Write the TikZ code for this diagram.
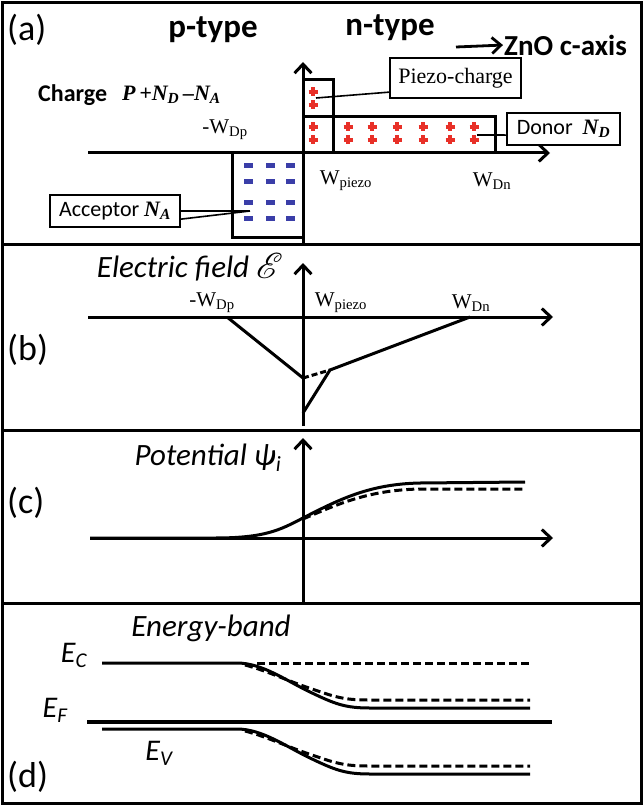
\documentclass[tikz,border=0pt]{standalone}
\usepackage{fontspec}
\setmainfont{Liberation Serif}
\setsansfont{Carlito}
\usepackage{mathrsfs}
\usepackage{graphicx}
\usetikzlibrary{arrows.meta,positioning,calc}
\definecolor{ink}{RGB}{0,0,0}
\definecolor{plusred}{RGB}{232,48,40}
\definecolor{minusblue}{RGB}{58,62,168}
\newcommand{\fsz}[1]{\fontsize{#1pt}{#1pt}\selectfont}
\tikzset{
  panelframe/.style={draw=ink,line width=3pt},
  axarr/.style={line width=3pt,-{Straight Barb[length=9pt,width=17pt]}},
  curve/.style={line width=3pt},
  dcurve/.style={line width=3pt,dash pattern=on 8pt off 4pt},
  chbox/.style={line width=3pt},
  plusmk/.style={plusred,line width=3.2pt},
  callout/.style={draw=ink,line width=2.2pt,fill=white,inner sep=0pt},
  leader/.style={line width=1.6pt},
  plab/.style={font=\sffamily\fsz{36},inner sep=0pt,anchor=west},
  hdr/.style={font=\sffamily\bfseries\fsz{33},inner sep=0pt},
  ttl/.style={font=\sffamily\itshape\fsz{31},inner sep=0pt},
  wlab/.style={font=\fsz{21},inner sep=0pt},
}

\begin{document}
\begin{tikzpicture}[x=1pt,y=-1pt]
  \useasboundingbox (0,0) rectangle (643,805);
  % frame and panel separators
  \draw[panelframe] (2,3) rectangle (641,803);
  \foreach \ys in {244,430,603}
    \draw[panelframe] (2,\ys) -- (641,\ys);

  % (a) charge distribution
  \node[plab] (labA) at (7,30) {(a)};
  \node[hdr] (ptype) at (213,30) {p-type};
  \node[hdr] (ntype) at (390,28) {n-type};
  \node[font=\sffamily\bfseries\fsz{29},inner sep=0pt,anchor=west] (caxis) at (504,45) {ZnO c-axis};
  \coordinate (cstart) at (456,47);
  \draw[line width=2.8pt,-{Straight Barb[length=9pt,width=16pt]},shorten >=1pt] (cstart) -- (caxis.west);
  \node[font=\sffamily\bfseries\fsz{24},inner sep=0pt,anchor=west] (charge) at (38,95) {Charge};
  \node[font=\bfseries\itshape\fsz{22},inner sep=0pt,anchor=west] (chgexpr) at (122,95)
    {P\,+N\textsubscript{D}\,--N\textsubscript{A}};

  \draw[chbox] (232,153) rectangle (303,237);
  \draw[chbox] (303,80) rectangle (333,153);
  \draw[chbox] (303,117) -- (495,117) -- (495,153);
  \foreach \x in {248,270,290}
    \foreach \y in {166,182,202,218}
      \fill[minusblue] (\x-4.5,\y-2.5) rectangle (\x+4.5,\y+2.5);
  \foreach \x in {313,348,372,397,423,450,474}
    \foreach \y in {127,140}
      \draw[plusmk] (\x-4.5,\y) -- (\x+4.5,\y) (\x,\y-4.5) -- (\x,\y+4.5);
  \foreach \y in {92,105}
    \draw[plusmk] (313-4.5,\y) -- (313+4.5,\y) (313,\y-4.5) -- (313,\y+4.5);

  \draw[axarr] (88,153) -- (550,153);
  \draw[axarr] (303,244) -- (303,62);
  \node[wlab] (wdpA) at (225,130) {-W\textsubscript{Dp}};
  \node[wlab] (wpzA) at (346,181) {W\textsubscript{piezo}};
  \node[wlab] (wdnA) at (492,181) {W\textsubscript{Dn}};

  \node[callout,font=\fsz{22},minimum width=131pt,minimum height=40pt] (pzlab) at (455.5,78) {Piezo-charge};
  \coordinate (pzpt) at (316,98);
  \draw[leader] (pzlab.192) -- (pzpt);
  \node[callout,font=\sffamily\fsz{22},minimum width=113pt,minimum height=32pt] (dnlab) at (563.5,129)
    {Donor\ \ {\rmfamily\bfseries\itshape N\textsubscript{D}}};
  \coordinate (dnpt) at (477,135);
  \draw[leader] (dnlab.186) -- (dnpt);
  \node[callout,font=\sffamily\fsz{22},minimum width=130pt,minimum height=32pt] (aclab) at (115,211)
    {Acceptor {\rmfamily\bfseries\itshape N\textsubscript{A}}};
  \coordinate (acpt) at (250,211);
  \draw[leader] (aclab.east) -- (acpt);
  \draw[leader] (aclab.-7) -- (acpt);

  % (b) electric field
  \node[plab] (labB) at (7,350) {(b)};
  \node[ttl] (efield) at (190,267) {Electric field \raisebox{-1pt}{\scalebox{1.45}{$\mathscr{E}$}}};
  \draw[axarr] (88,317) -- (553,317);
  \draw[axarr] (303,426) -- (303,263);
  \node[wlab] (wdpB) at (212,303) {-W\textsubscript{Dp}};
  \node[wlab] (wpzB) at (341,303) {W\textsubscript{piezo}};
  \node[wlab] (wdnB) at (471,303) {W\textsubscript{Dn}};
  \coordinate (fdp) at (227,317);
  \coordinate (fmin) at (303,378);
  \coordinate (fkink) at (330,370);
  \coordinate (flow) at (303,413);
  \coordinate (fdn) at (470,317);
  \draw[curve] (fdp) -- (fmin);
  \draw[dcurve,dash pattern=on 6pt off 3pt] (fmin) -- (fkink);
  \draw[curve,line join=round] (flow) -- (fkink) -- (fdn);

  % (c) potential
  \node[plab] (labC) at (7,503) {(c)};
  \node[ttl] (potl) at (208,458) {Potential ψ\textsubscript{i}};
  \draw[axarr] (90,538) -- (553,538);
  \draw[axarr] (303,603) -- (303,438);
  \draw[curve] (90,538) -- (215,538) .. controls (265,538) and (280,530) .. (303,518)
    .. controls (340,499) and (370,484) .. (420,483) -- (525,482);
  \draw[dcurve] (303,519) .. controls (340,503) and (370,490) .. (420,489) -- (525,489);

  % (d) energy band
  \node[plab] (labD) at (7,777) {(d)};
  \node[ttl] (eband) at (211,628) {Energy-band};
  \node[ttl,font=\sffamily\itshape\fsz{30}] (ec) at (74,655) {E\textsubscript{C}};
  \node[ttl,font=\sffamily\itshape\fsz{30}] (ef) at (55,710) {E\textsubscript{F}};
  \node[ttl,font=\sffamily\itshape\fsz{30}] (ev) at (159,753) {E\textsubscript{V}};
  \draw[line width=4pt] (87,722) -- (552,722);
  \draw[dcurve] (257,663) -- (530,663);
  \foreach \dy in {0,66} {
    \begin{scope}[shift={(0,\dy)}]
      \draw[curve] (102,663) -- (237,663) .. controls (262,663) and (285,680) .. (310,692)
        .. controls (335,704) and (345,708) .. (370,708) -- (530,708);
      \draw[dcurve] (245,665) .. controls (268,671) and (290,682) .. (315,690)
        .. controls (335,697) and (345,700) .. (368,700) -- (530,700);
    \end{scope}
  }
\end{tikzpicture}
\end{document}
